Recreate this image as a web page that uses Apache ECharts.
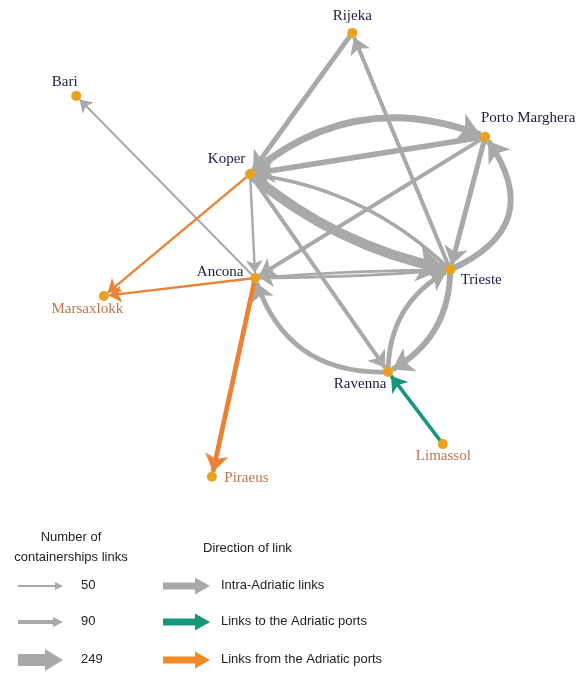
<!DOCTYPE html>
<html><head><meta charset="utf-8">
<script src="https://cdn.jsdelivr.net/npm/echarts@6/dist/echarts.min.js"></script>
<style>html,body{margin:0;padding:0;background:#fff}#c{width:588px;height:675px}</style>
</head><body><div id="c"></div>
<script>
// ---- data ----
const portNames = ['Rijeka','Bari','Porto Marghera','Koper','Ancona','Trieste','Marsaxlokk','Ravenna','Limassol','Piraeus'];
const portX = [65.7, 5.7, 94.6, 43.5, 44.6, 87.0, 11.7, 73.5, 85.4, 35.2];
const portY = [2.8, 16.5, 25.4, 33.5, 56.1, 54.3, 60.0, 76.5, 92.2, 99.3];
const portAdriatic = [true, true, true, true, true, true, false, true, false, false];

const linkSource = ['Ancona','Rijeka','Trieste','Koper','Porto Marghera','Porto Marghera','Koper','Trieste','Koper','Koper','Trieste','Ancona','Ravenna','Ravenna','Trieste','Porto Marghera','Trieste','Koper','Ancona','Ancona','Limassol'];
const linkTarget = ['Bari','Koper','Rijeka','Porto Marghera','Koper','Ancona','Trieste','Koper','Ancona','Ravenna','Ancona','Trieste','Ancona','Trieste','Ravenna','Trieste','Porto Marghera','Marsaxlokk','Marsaxlokk','Piraeus','Ravenna'];
const linkCount  = [50, 125, 100, 175, 140, 100, 249, 90, 60, 100, 70, 70, 120, 120, 150, 125, 150, 60, 60, 120, 90];
const linkType   = ['intra','intra','intra','intra','intra','intra','intra','intra','intra','intra','intra','intra','intra','intra','intra','intra','intra','from','from','from','to'];

const legendSizes = [50, 90, 249];
const legendTypes = ['Intra-Adriatic links', 'Links to the Adriatic ports', 'Links from the Adriatic ports'];
const legendTitleSize = ['Number of', 'containerships links'];
const legendTitleType = 'Direction of link';

// ---- styles ----
const typeColor = {intra: '#a9a9a9', to: '#16977a', from: '#ec8236'};
const legendTypeColor = ['#a9a9a9', '#16977a', '#ef8c27'];
const curve = {
  'Koper>Porto Marghera': 0.3, 'Koper>Trieste': -0.13, 'Trieste>Koper': -0.17,
  'Trieste>Ancona': 0.02, 'Ancona>Trieste': 0.02, 'Ravenna>Ancona': 0.38,
  'Ravenna>Trieste': 0.3, 'Trieste>Ravenna': 0.3, 'Trieste>Porto Marghera': -0.62
};
const labelOffset = {
  'Rijeka': [0, -17], 'Bari': [-11.5, -14], 'Porto Marghera': [43, -19], 'Koper': [-23.5, -15],
  'Ancona': [-35, -6], 'Trieste': [31, 10], 'Marsaxlokk': [-16.5, 13], 'Ravenna': [-28, 12],
  'Limassol': [0.5, 12], 'Piraeus': [34.5, 1]
};
const widthOf = v => v * 0.04;

const nodes = portNames.map((n, i) => ({
  name: n, value: [portX[i], portY[i]],
  label: {show: true, position: 'inside', offset: labelOffset[n],
    color: portAdriatic[i] ? '#1c1c44' : '#bb7650',
    fontFamily: 'Liberation Serif', fontSize: 15}
}));
const links = linkSource.map((s, i) => {
  const w = widthOf(linkCount[i]);
  return {
    source: s, target: linkTarget[i], value: linkCount[i],
    symbolSize: 8 + 2 * w,
    lineStyle: {color: typeColor[linkType[i]], width: w, curveness: curve[s + '>' + linkTarget[i]] || 0, opacity: 1}
  };
});

// ---- legend graphics ----
function arrow(x0, x1, y, bodyH, headL, headH, color) {
  return [
    {type: 'rect', shape: {x: x0, y: y - bodyH / 2, width: x1 - headL - x0 + 1, height: bodyH}, style: {fill: color}},
    {type: 'polygon', shape: {points: [[x1 - headL, y - headH / 2], [x1, y], [x1 - headL, y + headH / 2]]}, style: {fill: color}}
  ];
}
function txt(t, x, y, align) {
  return {type: 'text', style: {text: t, x: x, y: y, align: align || 'left', verticalAlign: 'middle',
    fontFamily: 'Liberation Sans', fontSize: 13, fill: '#222'}};
}
const rowsY = [586, 622, 660];
const sizeArrowSpec = [[2, 8, 8], [4, 10, 10], [12, 18, 22]];
let g = [];
g.push(txt(legendTitleSize[0], 71, 537, 'center'));
g.push(txt(legendTitleSize[1], 71, 557, 'center'));
g.push(txt(legendTitleType, 203, 548));
legendSizes.forEach((v, i) => {
  const sp = sizeArrowSpec[i];
  g = g.concat(arrow(18, 63, rowsY[i], sp[0], sp[1], sp[2], '#a9a9a9'));
  g.push(txt(String(v), 81, rowsY[i] - 1));
});
legendTypes.forEach((t, i) => {
  g = g.concat(arrow(163, 210, rowsY[i], 7, 15, 17, legendTypeColor[i]));
  g.push(txt(t, 221, rowsY[i] - 1));
});

const chart = echarts.init(document.getElementById('c'));
chart.setOption({
  animation: false,
  grid: {left: 50, top: 20, width: 460, height: 460},
  xAxis: {type: 'value', min: 0, max: 100, show: false},
  yAxis: {type: 'value', min: 0, max: 100, inverse: true, show: false},
  series: [{
    type: 'graph', coordinateSystem: 'cartesian2d', layout: 'none',
    symbol: 'circle', symbolSize: 10,
    itemStyle: {color: '#e9a21e'},
    edgeSymbol: ['none', 'arrow'],
    data: nodes, links: links, z: 2
  }],
  graphic: g
});
</script></body></html>
